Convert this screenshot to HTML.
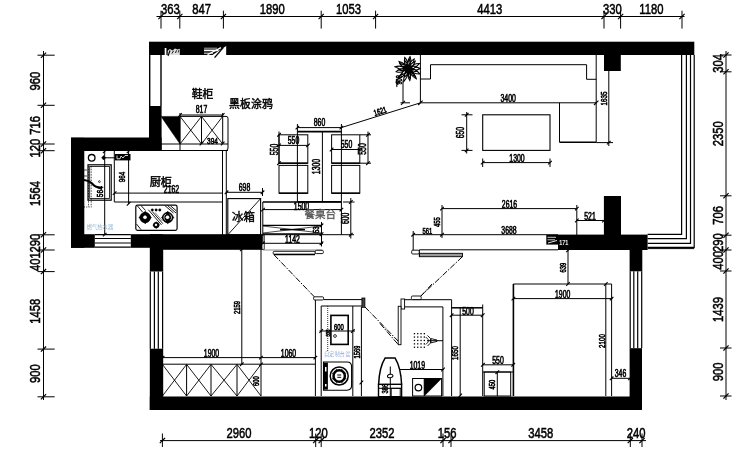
<!DOCTYPE html>
<html><head><meta charset="utf-8"><title>Floor plan</title>
<style>
html,body{margin:0;padding:0;background:#fff;}
body{width:740px;height:450px;overflow:hidden;font-family:"Liberation Sans",sans-serif;}
svg{display:block;will-change:transform;filter:blur(0.4px);}
svg text{font-family:"Liberation Sans",sans-serif;}
</style></head><body>
<svg width="740" height="450" viewBox="0 0 740 450" shape-rendering="geometricPrecision">
<rect width="740" height="450" fill="#fff"/>
<rect x="149" y="41.7" width="545.3" height="13.3" fill="#000" stroke="none" stroke-width="1" rx="0"/>
<rect x="149" y="106" width="12.6" height="45" fill="#000" stroke="none" stroke-width="1" rx="0"/>
<line x1="149.7" y1="55" x2="149.7" y2="106" stroke="#000" stroke-width="1.4" />
<line x1="161" y1="55" x2="161" y2="106" stroke="#000" stroke-width="1.4" />
<rect x="71" y="137.5" width="90.6" height="13.5" fill="#000" stroke="none" stroke-width="1" rx="0"/>
<rect x="71" y="137.8" width="13.3" height="110" fill="#000" stroke="none" stroke-width="1" rx="0"/>
<rect x="71" y="234.2" width="23.8" height="13.6" fill="#000" stroke="none" stroke-width="1" rx="0"/>
<rect x="130.8" y="234.2" width="32" height="13.6" fill="#000" stroke="none" stroke-width="1" rx="0"/>
<rect x="150" y="234.2" width="112.6" height="15.6" fill="#000" stroke="none" stroke-width="1" rx="0"/>
<rect x="149.8" y="247" width="13.4" height="24.5" fill="#000" stroke="none" stroke-width="1" rx="0"/>
<rect x="149.8" y="348.7" width="13.4" height="61.3" fill="#000" stroke="none" stroke-width="1" rx="0"/>
<rect x="149.8" y="396.5" width="492.2" height="13.5" fill="#000" stroke="none" stroke-width="1" rx="0"/>
<rect x="629.6" y="249" width="12.7" height="22.3" fill="#000" stroke="none" stroke-width="1" rx="0"/>
<rect x="629.6" y="348.2" width="12.4" height="61.8" fill="#000" stroke="none" stroke-width="1" rx="0"/>
<rect x="558" y="234.6" width="89.6" height="15.4" fill="#000" stroke="none" stroke-width="1" rx="0"/>
<rect x="603.9" y="196" width="17.1" height="39.5" fill="#000" stroke="none" stroke-width="1" rx="0"/>
<rect x="604" y="54" width="16.8" height="17" fill="#000" stroke="none" stroke-width="1" rx="0"/>
<path d="M161,116.4 L180,116.4 L180,144 Z" stroke="#000" stroke-width="0.5" fill="#000" />
<line x1="94.8" y1="234.7" x2="130.8" y2="234.7" stroke="#000" stroke-width="1.2" />
<line x1="94.8" y1="238.5" x2="130.8" y2="238.5" stroke="#000" stroke-width="1.2" />
<line x1="94.8" y1="243" x2="130.8" y2="243" stroke="#000" stroke-width="1.2" />
<line x1="94.8" y1="247.2" x2="130.8" y2="247.2" stroke="#000" stroke-width="1.2" />
<line x1="150.3" y1="271.5" x2="150.3" y2="348.7" stroke="#000" stroke-width="1.2" />
<line x1="154.4" y1="271.5" x2="154.4" y2="348.7" stroke="#000" stroke-width="1.2" />
<line x1="158.3" y1="271.5" x2="158.3" y2="348.7" stroke="#000" stroke-width="1.2" />
<line x1="162.6" y1="271.5" x2="162.6" y2="348.7" stroke="#000" stroke-width="1.2" />
<line x1="630.2" y1="271.3" x2="630.2" y2="348.2" stroke="#000" stroke-width="1.2" />
<line x1="633.8" y1="271.3" x2="633.8" y2="348.2" stroke="#000" stroke-width="1.2" />
<line x1="637.7" y1="271.3" x2="637.7" y2="348.2" stroke="#000" stroke-width="1.2" />
<line x1="641.7" y1="271.3" x2="641.7" y2="348.2" stroke="#000" stroke-width="1.2" />
<path d="M647.6,234.3 L681.6,234.3 L681.6,55" stroke="#000" stroke-width="1.2" fill="none" />
<path d="M647.6,238.7 L686.4,238.7 L686.4,55" stroke="#000" stroke-width="1.2" fill="none" />
<path d="M647.6,243.4 L690.5,243.4 L690.5,55" stroke="#000" stroke-width="1.2" fill="none" />
<path d="M647.6,247.3 L694.2,247.3 L694.2,55" stroke="#000" stroke-width="1.2" fill="none" />
<line x1="647.6" y1="248.6" x2="694.2" y2="248.6" stroke="#000" stroke-width="1" />
<line x1="156.5" y1="16.5" x2="684.5" y2="16.5" stroke="#000" stroke-width="1" />
<line x1="161" y1="10.7" x2="161" y2="28.6" stroke="#000" stroke-width="1" />
<line x1="158.4" y1="19.1" x2="163.6" y2="13.9" stroke="#000" stroke-width="1.2" />
<line x1="179.8" y1="10.7" x2="179.8" y2="28.6" stroke="#000" stroke-width="1" />
<line x1="177.20000000000002" y1="19.1" x2="182.4" y2="13.9" stroke="#000" stroke-width="1.2" />
<line x1="223.4" y1="10.7" x2="223.4" y2="28.6" stroke="#000" stroke-width="1" />
<line x1="220.8" y1="19.1" x2="226.0" y2="13.9" stroke="#000" stroke-width="1.2" />
<line x1="321.2" y1="10.7" x2="321.2" y2="28.6" stroke="#000" stroke-width="1" />
<line x1="318.59999999999997" y1="19.1" x2="323.8" y2="13.9" stroke="#000" stroke-width="1.2" />
<line x1="375.6" y1="10.7" x2="375.6" y2="28.6" stroke="#000" stroke-width="1" />
<line x1="373.0" y1="19.1" x2="378.20000000000005" y2="13.9" stroke="#000" stroke-width="1.2" />
<line x1="604" y1="10.7" x2="604" y2="28.6" stroke="#000" stroke-width="1" />
<line x1="601.4" y1="19.1" x2="606.6" y2="13.9" stroke="#000" stroke-width="1.2" />
<line x1="620.6" y1="10.7" x2="620.6" y2="28.6" stroke="#000" stroke-width="1" />
<line x1="618.0" y1="19.1" x2="623.2" y2="13.9" stroke="#000" stroke-width="1.2" />
<line x1="682" y1="10.7" x2="682" y2="28.6" stroke="#000" stroke-width="1" />
<line x1="679.4" y1="19.1" x2="684.6" y2="13.9" stroke="#000" stroke-width="1.2" />
<text transform="translate(170.4,13.6) scale(0.75,1)" font-size="15" text-anchor="middle" fill="#000" stroke="#000" stroke-width="0.55" font-weight="normal">363</text>
<text transform="translate(201.60000000000002,13.6) scale(0.75,1)" font-size="15" text-anchor="middle" fill="#000" stroke="#000" stroke-width="0.55" font-weight="normal">847</text>
<text transform="translate(272.3,13.6) scale(0.75,1)" font-size="15" text-anchor="middle" fill="#000" stroke="#000" stroke-width="0.55" font-weight="normal">1890</text>
<text transform="translate(348.4,13.6) scale(0.75,1)" font-size="15" text-anchor="middle" fill="#000" stroke="#000" stroke-width="0.55" font-weight="normal">1053</text>
<text transform="translate(489.8,13.6) scale(0.75,1)" font-size="15" text-anchor="middle" fill="#000" stroke="#000" stroke-width="0.55" font-weight="normal">4413</text>
<text transform="translate(612.3,13.6) scale(0.75,1)" font-size="15" text-anchor="middle" fill="#000" stroke="#000" stroke-width="0.55" font-weight="normal">330</text>
<text transform="translate(651.3,13.6) scale(0.75,1)" font-size="15" text-anchor="middle" fill="#000" stroke="#000" stroke-width="0.55" font-weight="normal">1180</text>
<line x1="160" y1="440.6" x2="646" y2="440.6" stroke="#000" stroke-width="1" />
<line x1="162.4" y1="433.5" x2="162.4" y2="447" stroke="#000" stroke-width="1" />
<line x1="159.8" y1="443.20000000000005" x2="165.0" y2="438.0" stroke="#000" stroke-width="1.2" />
<line x1="315.7" y1="433.5" x2="315.7" y2="447" stroke="#000" stroke-width="1" />
<line x1="313.09999999999997" y1="443.20000000000005" x2="318.3" y2="438.0" stroke="#000" stroke-width="1.2" />
<line x1="321.2" y1="433.5" x2="321.2" y2="447" stroke="#000" stroke-width="1" />
<line x1="318.59999999999997" y1="443.20000000000005" x2="323.8" y2="438.0" stroke="#000" stroke-width="1.2" />
<line x1="443" y1="433.5" x2="443" y2="447" stroke="#000" stroke-width="1" />
<line x1="440.4" y1="443.20000000000005" x2="445.6" y2="438.0" stroke="#000" stroke-width="1.2" />
<line x1="451" y1="433.5" x2="451" y2="447" stroke="#000" stroke-width="1" />
<line x1="448.4" y1="443.20000000000005" x2="453.6" y2="438.0" stroke="#000" stroke-width="1.2" />
<line x1="630.3" y1="433.5" x2="630.3" y2="447" stroke="#000" stroke-width="1" />
<line x1="627.6999999999999" y1="443.20000000000005" x2="632.9" y2="438.0" stroke="#000" stroke-width="1.2" />
<line x1="642" y1="433.5" x2="642" y2="447" stroke="#000" stroke-width="1" />
<line x1="639.4" y1="443.20000000000005" x2="644.6" y2="438.0" stroke="#000" stroke-width="1.2" />
<text transform="translate(239.05,438.4) scale(0.75,1)" font-size="15" text-anchor="middle" fill="#000" stroke="#000" stroke-width="0.55" font-weight="normal">2960</text>
<text transform="translate(318.45,438.4) scale(0.75,1)" font-size="15" text-anchor="middle" fill="#000" stroke="#000" stroke-width="0.55" font-weight="normal">120</text>
<text transform="translate(382.1,438.4) scale(0.75,1)" font-size="15" text-anchor="middle" fill="#000" stroke="#000" stroke-width="0.55" font-weight="normal">2352</text>
<text transform="translate(447.0,438.4) scale(0.75,1)" font-size="15" text-anchor="middle" fill="#000" stroke="#000" stroke-width="0.55" font-weight="normal">156</text>
<text transform="translate(540.65,438.4) scale(0.75,1)" font-size="15" text-anchor="middle" fill="#000" stroke="#000" stroke-width="0.55" font-weight="normal">3458</text>
<text transform="translate(636.15,438.4) scale(0.75,1)" font-size="15" text-anchor="middle" fill="#000" stroke="#000" stroke-width="0.55" font-weight="normal">240</text>
<line x1="43.5" y1="51" x2="43.5" y2="400" stroke="#000" stroke-width="1" />
<line x1="37.5" y1="55.2" x2="54.7" y2="55.2" stroke="#000" stroke-width="1" />
<line x1="40.9" y1="57.800000000000004" x2="46.1" y2="52.6" stroke="#000" stroke-width="1.2" />
<line x1="37.5" y1="105.3" x2="54.7" y2="105.3" stroke="#000" stroke-width="1" />
<line x1="40.9" y1="107.89999999999999" x2="46.1" y2="102.7" stroke="#000" stroke-width="1.2" />
<line x1="37.5" y1="144" x2="54.7" y2="144" stroke="#000" stroke-width="1" />
<line x1="40.9" y1="146.6" x2="46.1" y2="141.4" stroke="#000" stroke-width="1.2" />
<line x1="37.5" y1="150.7" x2="54.7" y2="150.7" stroke="#000" stroke-width="1" />
<line x1="40.9" y1="153.29999999999998" x2="46.1" y2="148.1" stroke="#000" stroke-width="1.2" />
<line x1="37.5" y1="234.8" x2="54.7" y2="234.8" stroke="#000" stroke-width="1" />
<line x1="40.9" y1="237.4" x2="46.1" y2="232.20000000000002" stroke="#000" stroke-width="1.2" />
<line x1="37.5" y1="250" x2="54.7" y2="250" stroke="#000" stroke-width="1" />
<line x1="40.9" y1="252.6" x2="46.1" y2="247.4" stroke="#000" stroke-width="1.2" />
<line x1="37.5" y1="271.6" x2="54.7" y2="271.6" stroke="#000" stroke-width="1" />
<line x1="40.9" y1="274.20000000000005" x2="46.1" y2="269.0" stroke="#000" stroke-width="1.2" />
<line x1="37.5" y1="349.1" x2="54.7" y2="349.1" stroke="#000" stroke-width="1" />
<line x1="40.9" y1="351.70000000000005" x2="46.1" y2="346.5" stroke="#000" stroke-width="1.2" />
<line x1="37.5" y1="396.8" x2="54.7" y2="396.8" stroke="#000" stroke-width="1" />
<line x1="40.9" y1="399.40000000000003" x2="46.1" y2="394.2" stroke="#000" stroke-width="1.2" />
<text transform="translate(40.2,81.05) rotate(-90) scale(0.75,1)" font-size="15" text-anchor="middle" fill="#000" stroke="#000" stroke-width="0.55" font-weight="normal">960</text>
<text transform="translate(40.2,125.45) rotate(-90) scale(0.75,1)" font-size="15" text-anchor="middle" fill="#000" stroke="#000" stroke-width="0.55" font-weight="normal">716</text>
<text transform="translate(40.2,148.15) rotate(-90) scale(0.75,1)" font-size="15" text-anchor="middle" fill="#000" stroke="#000" stroke-width="0.55" font-weight="normal">120</text>
<text transform="translate(40.2,193.55) rotate(-90) scale(0.75,1)" font-size="15" text-anchor="middle" fill="#000" stroke="#000" stroke-width="0.55" font-weight="normal">1564</text>
<text transform="translate(40.2,243.20000000000002) rotate(-90) scale(0.75,1)" font-size="15" text-anchor="middle" fill="#000" stroke="#000" stroke-width="0.55" font-weight="normal">290</text>
<text transform="translate(40.2,261.6) rotate(-90) scale(0.75,1)" font-size="15" text-anchor="middle" fill="#000" stroke="#000" stroke-width="0.55" font-weight="normal">401</text>
<text transform="translate(40.2,311.15000000000003) rotate(-90) scale(0.75,1)" font-size="15" text-anchor="middle" fill="#000" stroke="#000" stroke-width="0.55" font-weight="normal">1458</text>
<text transform="translate(40.2,373.75000000000006) rotate(-90) scale(0.75,1)" font-size="15" text-anchor="middle" fill="#000" stroke="#000" stroke-width="0.55" font-weight="normal">900</text>
<line x1="726" y1="51" x2="726" y2="400" stroke="#000" stroke-width="1" />
<line x1="720" y1="55" x2="731.5" y2="55" stroke="#000" stroke-width="1" />
<line x1="723.4" y1="57.6" x2="728.6" y2="52.4" stroke="#000" stroke-width="1.2" />
<line x1="720" y1="71.8" x2="731.5" y2="71.8" stroke="#000" stroke-width="1" />
<line x1="723.4" y1="74.39999999999999" x2="728.6" y2="69.2" stroke="#000" stroke-width="1.2" />
<line x1="720" y1="195.8" x2="731.5" y2="195.8" stroke="#000" stroke-width="1" />
<line x1="723.4" y1="198.4" x2="728.6" y2="193.20000000000002" stroke="#000" stroke-width="1.2" />
<line x1="720" y1="235.2" x2="731.5" y2="235.2" stroke="#000" stroke-width="1" />
<line x1="723.4" y1="237.79999999999998" x2="728.6" y2="232.6" stroke="#000" stroke-width="1.2" />
<line x1="720" y1="250" x2="731.5" y2="250" stroke="#000" stroke-width="1" />
<line x1="723.4" y1="252.6" x2="728.6" y2="247.4" stroke="#000" stroke-width="1.2" />
<line x1="720" y1="271" x2="731.5" y2="271" stroke="#000" stroke-width="1" />
<line x1="723.4" y1="273.6" x2="728.6" y2="268.4" stroke="#000" stroke-width="1.2" />
<line x1="720" y1="348" x2="731.5" y2="348" stroke="#000" stroke-width="1" />
<line x1="723.4" y1="350.6" x2="728.6" y2="345.4" stroke="#000" stroke-width="1.2" />
<line x1="720" y1="396" x2="731.5" y2="396" stroke="#000" stroke-width="1" />
<line x1="723.4" y1="398.6" x2="728.6" y2="393.4" stroke="#000" stroke-width="1.2" />
<text transform="translate(723.2,63.4) rotate(-90) scale(0.75,1)" font-size="15" text-anchor="middle" fill="#000" stroke="#000" stroke-width="0.55" font-weight="normal">304</text>
<text transform="translate(723.2,133.8) rotate(-90) scale(0.75,1)" font-size="15" text-anchor="middle" fill="#000" stroke="#000" stroke-width="0.55" font-weight="normal">2350</text>
<text transform="translate(723.2,215.5) rotate(-90) scale(0.75,1)" font-size="15" text-anchor="middle" fill="#000" stroke="#000" stroke-width="0.55" font-weight="normal">706</text>
<text transform="translate(723.2,242.6) rotate(-90) scale(0.75,1)" font-size="15" text-anchor="middle" fill="#000" stroke="#000" stroke-width="0.55" font-weight="normal">290</text>
<text transform="translate(723.2,260.5) rotate(-90) scale(0.75,1)" font-size="15" text-anchor="middle" fill="#000" stroke="#000" stroke-width="0.55" font-weight="normal">400</text>
<text transform="translate(723.2,309.5) rotate(-90) scale(0.75,1)" font-size="15" text-anchor="middle" fill="#000" stroke="#000" stroke-width="0.55" font-weight="normal">1439</text>
<text transform="translate(723.2,372.0) rotate(-90) scale(0.75,1)" font-size="15" text-anchor="middle" fill="#000" stroke="#000" stroke-width="0.55" font-weight="normal">900</text>
<rect x="164.7" y="48" width="1.7" height="7" fill="#fff" stroke="none" stroke-width="1" rx="0"/>
<path d="M167.6,55 L167.8,50.5 L170,49 L172.5,50.5 L175,48.6 L177.5,49.5 L179.8,48.8 L179.8,55 Z" stroke="none" stroke-width="0" fill="#ddd" />
<line x1="168" y1="56" x2="170" y2="50.5" stroke="#000" stroke-width="1.1" />
<line x1="172" y1="53.5" x2="173.5" y2="50.8" stroke="#000" stroke-width="0.9" />
<line x1="175.5" y1="53" x2="176.5" y2="50.3" stroke="#000" stroke-width="0.9" />
<line x1="178.2" y1="52.5" x2="178.8" y2="50.2" stroke="#000" stroke-width="0.8" />
<line x1="204" y1="48.2" x2="217" y2="48.2" stroke="#aaa" stroke-width="1" />
<line x1="204" y1="50.4" x2="218.5" y2="50.4" stroke="#fff" stroke-width="1.7" />
<line x1="204" y1="53.2" x2="213" y2="53.2" stroke="#ccc" stroke-width="1.2" />
<path d="M212.5,54.9 L226.2,46.1 L226.2,54.9 Z" stroke="none" stroke-width="0" fill="#fff" />
<line x1="207.5" y1="54.8" x2="221" y2="47.6" stroke="#fff" stroke-width="1.3" />
<line x1="214.6" y1="57.6" x2="223.2" y2="47.6" stroke="#000" stroke-width="1.4" />
<line x1="161" y1="144" x2="228" y2="144" stroke="#000" stroke-width="1" />
<line x1="161" y1="150.5" x2="228" y2="150.5" stroke="#000" stroke-width="1" />
<line x1="180" y1="116.4" x2="222.7" y2="116.4" stroke="#000" stroke-width="1" />
<line x1="180" y1="115" x2="222.7" y2="115" stroke="#000" stroke-width="1" />
<line x1="180" y1="116.4" x2="180" y2="150.5" stroke="#000" stroke-width="1" />
<line x1="201.5" y1="116.4" x2="201.5" y2="144" stroke="#000" stroke-width="1" />
<line x1="222.7" y1="113" x2="222.7" y2="144" stroke="#000" stroke-width="1" />
<line x1="180" y1="113" x2="180" y2="116" stroke="#000" stroke-width="1" />
<line x1="180" y1="116.4" x2="201.5" y2="144" stroke="#000" stroke-width="0.9" />
<line x1="180" y1="144" x2="201.5" y2="116.4" stroke="#000" stroke-width="0.9" />
<line x1="201.5" y1="116.4" x2="222.7" y2="144" stroke="#000" stroke-width="0.9" />
<line x1="201.5" y1="144" x2="222.7" y2="116.4" stroke="#000" stroke-width="0.9" />
<path d="M222.7,116.4 H226 Q228,116.4 228,118.4 V148 Q228,150.5 226,150.5" fill="none" stroke="#000"/>
<line x1="178.2" y1="116.8" x2="181.8" y2="113.2" stroke="#000" stroke-width="1.1" />
<line x1="220.89999999999998" y1="116.8" x2="224.5" y2="113.2" stroke="#000" stroke-width="1.1" />
<line x1="199.7" y1="145.3" x2="203.3" y2="141.7" stroke="#000" stroke-width="1.1" />
<line x1="220.89999999999998" y1="145.3" x2="224.5" y2="141.7" stroke="#000" stroke-width="1.1" />
<text transform="translate(201.5,113) scale(0.69,1)" font-size="10" text-anchor="middle" fill="#000" stroke="#000" stroke-width="0.6" font-weight="normal">817</text>
<text transform="translate(212.5,144.2) scale(0.69,1)" font-size="9.5" text-anchor="middle" fill="#000" stroke="#000" stroke-width="0.6" font-weight="normal">394</text>
<text x="191.7" y="98.3" font-size="10.8" fill="#000" stroke="#000" stroke-width="0.45" style="font-family:'Liberation Sans','Noto Sans CJK SC',sans-serif">鞋柜</text>
<text x="229" y="108.2" font-size="10.8" letter-spacing="0.2" fill="#000" stroke="#000" stroke-width="0.45" style="font-family:'Liberation Sans','Noto Sans CJK SC',sans-serif">黑板涂鸦</text>
<line x1="222.5" y1="150" x2="222.5" y2="235" stroke="#000" stroke-width="1" />
<line x1="226.3" y1="150" x2="226.3" y2="235" stroke="#000" stroke-width="1" />
<circle cx="91.7" cy="157.8" r="3.3" fill="none" stroke="#000" stroke-width="1.3"/>
<path d="M103.6,155.6 L105.6,157.8 L103.6,160 L101.6,157.8 Z" stroke="#000" stroke-width="0.5" fill="#000" />
<line x1="105" y1="157.8" x2="115" y2="157.8" stroke="#000" stroke-width="1" />
<rect x="115" y="154" width="15.5" height="6.4" fill="#000" stroke="none" stroke-width="1" rx="0"/>
<path d="M117,155.5 L117,158.8 L120,158.8 L121,156 L123,158 L125,155.5 L128,155.5" stroke="#fff" stroke-width="0.8" fill="none" />
<line x1="104.7" y1="151" x2="104.7" y2="235" stroke="#000" stroke-width="1" />
<line x1="102.9" y1="153.10000000000002" x2="106.5" y2="149.5" stroke="#000" stroke-width="1.1" />
<line x1="102.9" y1="236.4" x2="106.5" y2="232.79999999999998" stroke="#000" stroke-width="1.1" />
<rect x="88" y="164.8" width="23.2" height="35.4" fill="none" stroke="#000" stroke-width="1.2" rx="0"/>
<rect x="89.7" y="166.5" width="19.8" height="32" fill="none" stroke="#000" stroke-width="0.8" rx="0"/>
<line x1="88.5" y1="166" x2="88.5" y2="207" stroke="#000" stroke-width="0.7" stroke-dasharray="1.5,1.2"/>
<line x1="91.2" y1="166" x2="91.2" y2="207" stroke="#000" stroke-width="0.7" stroke-dasharray="1.5,1.2"/>
<line x1="84" y1="207" x2="91.5" y2="207" stroke="#000" stroke-width="0.8" stroke-dasharray="1,1.3"/>
<line x1="84" y1="170" x2="87" y2="170" stroke="#000" stroke-width="0.7" />
<line x1="84" y1="176" x2="87" y2="176" stroke="#000" stroke-width="0.7" />
<path d="M84,180 Q90,181 93,184.5 T102,187.6" fill="none" stroke="#000" stroke-width="2"/>
<circle cx="99.4" cy="181.6" r="0.9" fill="none" stroke="#000" stroke-width="0.7"/>
<text transform="translate(102.6,191.7) rotate(-90) scale(0.69,1)" font-size="9.5" text-anchor="middle" fill="#000" stroke="#000" stroke-width="0.6" font-weight="normal">564</text>
<line x1="114.3" y1="151" x2="114.3" y2="202" stroke="#000" stroke-width="1" />
<line x1="128.6" y1="151" x2="128.6" y2="204.2" stroke="#000" stroke-width="1" />
<line x1="114.3" y1="193.1" x2="222.3" y2="193.1" stroke="#000" stroke-width="1" />
<line x1="114.3" y1="202" x2="222.3" y2="202" stroke="#000" stroke-width="1" />
<line x1="126.8" y1="153.10000000000002" x2="130.4" y2="149.5" stroke="#000" stroke-width="1.1" />
<line x1="126.8" y1="205.60000000000002" x2="130.4" y2="202.0" stroke="#000" stroke-width="1.1" />
<line x1="112.8" y1="194.9" x2="116.39999999999999" y2="191.29999999999998" stroke="#000" stroke-width="1.1" />
<text transform="translate(125.4,177) rotate(-90) scale(0.69,1)" font-size="9" text-anchor="middle" fill="#000" stroke="#000" stroke-width="0.6" font-weight="normal">964</text>
<text transform="translate(171.5,193) scale(0.69,1)" font-size="10" text-anchor="middle" fill="#000" stroke="#000" stroke-width="0.6" font-weight="normal">2162</text>
<text x="149.8" y="185.7" font-size="11.2" letter-spacing="-0.2" fill="#000" stroke="#000" stroke-width="0.45" style="font-family:'Liberation Sans','Noto Sans CJK SC',sans-serif">厨柜</text>
<rect x="135.8" y="205.1" width="41.3" height="25.3" fill="none" stroke="#000" stroke-width="1.2" rx="1.8"/>
<circle cx="145.2" cy="217.5" r="5.319999999999999" fill="#000" stroke="#000" stroke-width="0.5"/>
<path d="M138.928,217.5 L145.2,211.228 L151.47199999999998,217.5 L145.2,223.772 Z" stroke="#000" stroke-width="0.5" fill="#000" />
<circle cx="145.0" cy="217.3" r="1.7" fill="#fff" stroke="#fff" stroke-width="0.2"/>
<circle cx="167.7" cy="217.5" r="5.319999999999999" fill="#000" stroke="#000" stroke-width="0.5"/>
<path d="M161.428,217.5 L167.7,211.228 L173.97199999999998,217.5 L167.7,223.772 Z" stroke="#000" stroke-width="0.5" fill="#000" />
<circle cx="167.5" cy="217.3" r="1.7" fill="#fff" stroke="#fff" stroke-width="0.2"/>
<circle cx="156.2" cy="225.1" r="2.8499999999999996" fill="#000" stroke="#000" stroke-width="0.5"/>
<path d="M152.83999999999997,225.1 L156.2,221.73999999999998 L159.56,225.1 L156.2,228.46 Z" stroke="#000" stroke-width="0.5" fill="#000" />
<circle cx="156.0" cy="224.9" r="1.1" fill="#fff" stroke="#fff" stroke-width="0.2"/>
<path d="M166.2,214 a3.6,3.6 0 0 0 -0.5,6.5" fill="none" stroke="#fff" stroke-width="0.7"/>
<path d="M169.5,214.2 a3.6,3.6 0 0 1 0.8,6" fill="none" stroke="#fff" stroke-width="0.7"/>
<circle cx="152.3" cy="209.9" r="1.25" fill="#000" stroke="#000" stroke-width="0.3"/>
<circle cx="156.1" cy="209.9" r="1.25" fill="#000" stroke="#000" stroke-width="0.3"/>
<circle cx="159.8" cy="209.9" r="1.25" fill="#000" stroke="#000" stroke-width="0.3"/>
<line x1="137.5" y1="206" x2="142.5" y2="212" stroke="#000" stroke-width="0.9" />
<line x1="141" y1="205.5" x2="145.5" y2="210.5" stroke="#000" stroke-width="0.9" />
<line x1="148.3" y1="209.7" x2="161.5" y2="224.9" stroke="#000" stroke-width="0.9" />
<line x1="152.3" y1="211.6" x2="162.9" y2="223.7" stroke="#000" stroke-width="0.9" />
<line x1="155" y1="212.5" x2="162.5" y2="221" stroke="#666" stroke-width="0.8" />
<line x1="164.8" y1="205.5" x2="173.5" y2="213" stroke="#000" stroke-width="0.9" />
<line x1="167.5" y1="205.5" x2="176" y2="213" stroke="#000" stroke-width="0.9" />
<line x1="170.5" y1="205.8" x2="176.5" y2="211" stroke="#000" stroke-width="0.9" />
<line x1="136.5" y1="224" x2="141" y2="229.6" stroke="#000" stroke-width="0.9" />
<text x="86.7" y="229" font-size="5.3" fill="#8fb0cc" style="font-family:'Liberation Sans','Noto Sans CJK SC',sans-serif">燃气热水器</text>
<rect x="227.8" y="198.6" width="32.8" height="36.2" fill="none" stroke="#000" stroke-width="1.1" rx="0"/>
<line x1="227.8" y1="234.8" x2="260.6" y2="198.6" stroke="#000" stroke-width="0.9" />
<line x1="226" y1="192.3" x2="262.5" y2="192.3" stroke="#000" stroke-width="1" />
<line x1="262.5" y1="188" x2="262.5" y2="196" stroke="#000" stroke-width="1" />
<line x1="224.7" y1="194.10000000000002" x2="228.3" y2="190.5" stroke="#000" stroke-width="1.1" />
<line x1="260.7" y1="194.10000000000002" x2="264.3" y2="190.5" stroke="#000" stroke-width="1.1" />
<text transform="translate(244.5,191.2) scale(0.69,1)" font-size="10" text-anchor="middle" fill="#000" stroke="#000" stroke-width="0.6" font-weight="normal">698</text>
<text x="232" y="221" font-size="11.4" letter-spacing="0.2" fill="#000" stroke="#000" stroke-width="0.4" style="font-family:'Liberation Sans','Noto Sans CJK SC',sans-serif">冰箱</text>
<rect x="262" y="235" width="2.2" height="14.3" fill="#fff" stroke="#000" stroke-width="0.8" rx="0"/>
<line x1="297.4" y1="127.6" x2="341.4" y2="127.6" stroke="#000" stroke-width="1" />
<line x1="297.4" y1="131.6" x2="341.4" y2="131.6" stroke="#000" stroke-width="1.6" />
<line x1="297.4" y1="124" x2="297.4" y2="201.8" stroke="#000" stroke-width="1" />
<line x1="341.4" y1="124" x2="341.4" y2="201.8" stroke="#000" stroke-width="1" />
<line x1="322.4" y1="131.6" x2="322.4" y2="201.8" stroke="#000" stroke-width="1" />
<line x1="297.4" y1="201.8" x2="341.4" y2="201.8" stroke="#000" stroke-width="1.6" />
<line x1="295.59999999999997" y1="129.4" x2="299.2" y2="125.8" stroke="#000" stroke-width="1.1" />
<line x1="339.59999999999997" y1="129.4" x2="343.2" y2="125.8" stroke="#000" stroke-width="1.1" />
<text transform="translate(319.5,126.2) scale(0.69,1)" font-size="10" text-anchor="middle" fill="#000" stroke="#000" stroke-width="0.6" font-weight="normal">860</text>
<text transform="translate(319.8,166.5) rotate(-90) scale(0.69,1)" font-size="10" text-anchor="middle" fill="#000" stroke="#000" stroke-width="0.6" font-weight="normal">1300</text>
<rect x="279" y="134.8" width="28.80000000000001" height="28.399999999999977" fill="none" stroke="#000" stroke-width="1" rx="0"/>
<line x1="279" y1="163.2" x2="307.8" y2="163.2" stroke="#000" stroke-width="1.5" />
<rect x="279" y="165.4" width="28.80000000000001" height="27.799999999999983" fill="none" stroke="#000" stroke-width="1" rx="0"/>
<line x1="279" y1="193.2" x2="307.8" y2="193.2" stroke="#000" stroke-width="1.5" />
<rect x="331.6" y="134.8" width="28.19999999999999" height="28.399999999999977" fill="none" stroke="#000" stroke-width="1" rx="0"/>
<line x1="331.6" y1="163.2" x2="359.8" y2="163.2" stroke="#000" stroke-width="1.5" />
<rect x="331.6" y="165.4" width="28.19999999999999" height="27.799999999999983" fill="none" stroke="#000" stroke-width="1" rx="0"/>
<line x1="331.6" y1="193.2" x2="359.8" y2="193.2" stroke="#000" stroke-width="1.5" />
<line x1="279" y1="131.5" x2="279" y2="163.5" stroke="#000" stroke-width="1" />
<line x1="279" y1="145.4" x2="308.5" y2="145.4" stroke="#000" stroke-width="1" />
<line x1="277.2" y1="136.60000000000002" x2="280.8" y2="133.0" stroke="#000" stroke-width="1.1" />
<line x1="277.2" y1="165.0" x2="280.8" y2="161.39999999999998" stroke="#000" stroke-width="1.1" />
<line x1="277.2" y1="147.20000000000002" x2="280.8" y2="143.6" stroke="#000" stroke-width="1.1" />
<line x1="306.2" y1="147.20000000000002" x2="309.8" y2="143.6" stroke="#000" stroke-width="1.1" />
<text transform="translate(293.5,144.2) scale(0.69,1)" font-size="10" text-anchor="middle" fill="#000" stroke="#000" stroke-width="0.6" font-weight="normal">550</text>
<text transform="translate(278,149.5) rotate(-90) scale(0.69,1)" font-size="10" text-anchor="middle" fill="#000" stroke="#000" stroke-width="0.6" font-weight="normal">550</text>
<line x1="368" y1="131.5" x2="368" y2="163.5" stroke="#000" stroke-width="1" />
<line x1="331" y1="149.5" x2="360" y2="149.5" stroke="#000" stroke-width="1" />
<line x1="366.2" y1="136.60000000000002" x2="369.8" y2="133.0" stroke="#000" stroke-width="1.1" />
<line x1="366.2" y1="165.0" x2="369.8" y2="161.39999999999998" stroke="#000" stroke-width="1.1" />
<line x1="329.8" y1="151.3" x2="333.40000000000003" y2="147.7" stroke="#000" stroke-width="1.1" />
<line x1="358.0" y1="151.3" x2="361.6" y2="147.7" stroke="#000" stroke-width="1.1" />
<text transform="translate(346.5,148.3) scale(0.69,1)" font-size="10" text-anchor="middle" fill="#000" stroke="#000" stroke-width="0.6" font-weight="normal">550</text>
<text transform="translate(365.8,149) rotate(-90) scale(0.69,1)" font-size="10" text-anchor="middle" fill="#000" stroke="#000" stroke-width="0.6" font-weight="normal">550</text>
<line x1="360" y1="134.8" x2="371" y2="134.8" stroke="#000" stroke-width="1" />
<line x1="360" y1="163.2" x2="371" y2="163.2" stroke="#000" stroke-width="1" />
<line x1="341.4" y1="127.6" x2="420.5" y2="102.8" stroke="#000" stroke-width="1" />
<text transform="translate(381,114) rotate(-17.5) scale(0.69,1)" font-size="8.5" text-anchor="middle" fill="#000" stroke="#000" stroke-width="0.6" font-weight="normal">1621</text>
<line x1="262.8" y1="202" x2="341.4" y2="202" stroke="#000" stroke-width="1.3" />
<line x1="262.8" y1="209.6" x2="341.4" y2="209.6" stroke="#000" stroke-width="1" />
<line x1="262.8" y1="202" x2="262.8" y2="243.5" stroke="#000" stroke-width="1" />
<line x1="341.4" y1="202" x2="341.4" y2="234.7" stroke="#000" stroke-width="1" />
<line x1="262.8" y1="234.7" x2="354" y2="234.7" stroke="#000" stroke-width="1" />
<line x1="261.2" y1="211.4" x2="264.8" y2="207.79999999999998" stroke="#000" stroke-width="1.1" />
<line x1="339.59999999999997" y1="211.4" x2="343.2" y2="207.79999999999998" stroke="#000" stroke-width="1.1" />
<text transform="translate(301.5,210) scale(0.69,1)" font-size="10" text-anchor="middle" fill="#000" stroke="#000" stroke-width="0.6" font-weight="normal">1500</text>
<text x="304.6" y="218.1" font-size="10.6" letter-spacing="-0.1" fill="#555" stroke="#555" stroke-width="0.3" style="font-family:'Liberation Sans','Noto Sans CJK SC',sans-serif">餐桌台</text>
<line x1="350.8" y1="198" x2="350.8" y2="238.5" stroke="#000" stroke-width="1" />
<line x1="343" y1="202" x2="354.5" y2="202" stroke="#000" stroke-width="1" />
<line x1="349.0" y1="203.8" x2="352.6" y2="200.2" stroke="#000" stroke-width="1.1" />
<line x1="349.0" y1="236.5" x2="352.6" y2="232.89999999999998" stroke="#000" stroke-width="1.1" />
<text transform="translate(348.6,218.3) rotate(-90) scale(0.69,1)" font-size="10" text-anchor="middle" fill="#000" stroke="#000" stroke-width="0.6" font-weight="normal">600</text>
<line x1="262.8" y1="225.3" x2="321.5" y2="225.3" stroke="#000" stroke-width="1.2" />
<line x1="262.8" y1="233.8" x2="321.5" y2="233.8" stroke="#000" stroke-width="1.2" />
<line x1="263" y1="226" x2="321" y2="233" stroke="#000" stroke-width="0.7" />
<line x1="263" y1="233" x2="321" y2="226" stroke="#000" stroke-width="0.7" />
<line x1="280" y1="229.6" x2="305" y2="229.6" stroke="#000" stroke-width="1.4" />
<line x1="321.5" y1="222" x2="321.5" y2="246.5" stroke="#000" stroke-width="1" />
<line x1="319.7" y1="227.10000000000002" x2="323.3" y2="223.5" stroke="#000" stroke-width="1.1" />
<line x1="319.7" y1="236.0" x2="323.3" y2="232.39999999999998" stroke="#000" stroke-width="1.1" />
<text transform="translate(318.6,229.8) rotate(-90) scale(0.69,1)" font-size="8.5" text-anchor="middle" fill="#000" stroke="#000" stroke-width="0.6" font-weight="normal">53</text>
<line x1="262.8" y1="243.3" x2="323" y2="243.3" stroke="#000" stroke-width="1" />
<line x1="261.0" y1="245.10000000000002" x2="264.6" y2="241.5" stroke="#000" stroke-width="1.1" />
<line x1="319.7" y1="245.10000000000002" x2="323.3" y2="241.5" stroke="#000" stroke-width="1.1" />
<text transform="translate(292.5,243.4) scale(0.69,1)" font-size="10" text-anchor="middle" fill="#000" stroke="#000" stroke-width="0.6" font-weight="normal">1142</text>
<line x1="263" y1="250" x2="322" y2="250" stroke="#777" stroke-width="0.8" />
<rect x="273.2" y="251.3" width="42" height="3.1" fill="#fff" stroke="#000" stroke-width="0.9" rx="1"/>
<line x1="274" y1="254.5" x2="315" y2="254.5" stroke="#000" stroke-width="1.3" />
<rect x="315.3" y="250.3" width="8" height="3.3" fill="#fff" stroke="#000" stroke-width="0.9" rx="1"/>
<line x1="274" y1="254.8" x2="314.5" y2="297" stroke="#000" stroke-width="1" stroke-dasharray="6,1.5,1.5,1.5"/>
<line x1="420.4" y1="55" x2="420.4" y2="102.8" stroke="#000" stroke-width="1" />
<line x1="420.4" y1="102.8" x2="596.2" y2="102.8" stroke="#000" stroke-width="1" />
<line x1="596.2" y1="55" x2="596.2" y2="142.3" stroke="#000" stroke-width="1" />
<path d="M420.4,79 L430.5,79 L430.5,64.7 L586.6,64.7 L586.6,79.3 L596.2,79.3" stroke="#000" stroke-width="1" fill="none" />
<line x1="559.5" y1="102.8" x2="559.5" y2="142.3" stroke="#000" stroke-width="1" />
<line x1="559.5" y1="142.3" x2="596.2" y2="142.3" stroke="#000" stroke-width="1.6" />
<line x1="418.2" y1="105.0" x2="422.59999999999997" y2="100.6" stroke="#000" stroke-width="1.1" />
<line x1="594.0" y1="105.0" x2="598.4000000000001" y2="100.6" stroke="#000" stroke-width="1.1" />
<text transform="translate(508.2,102) scale(0.69,1)" font-size="10" text-anchor="middle" fill="#000" stroke="#000" stroke-width="0.6" font-weight="normal">3400</text>
<line x1="608.8" y1="71" x2="608.8" y2="146" stroke="#000" stroke-width="1" />
<line x1="596.2" y1="142.6" x2="613" y2="142.6" stroke="#000" stroke-width="1" />
<line x1="607.0" y1="144.4" x2="610.5999999999999" y2="140.79999999999998" stroke="#000" stroke-width="1.1" />
<text transform="translate(607,98.5) rotate(-90) scale(0.69,1)" font-size="9" text-anchor="middle" fill="#000" stroke="#000" stroke-width="0.6" font-weight="normal">1635</text>
<rect x="482.7" y="114.8" width="67.3" height="35.6" fill="none" stroke="#000" stroke-width="1.1" rx="0"/>
<line x1="466.7" y1="112" x2="466.7" y2="153.5" stroke="#000" stroke-width="1" />
<line x1="461.5" y1="114.8" x2="472.5" y2="114.8" stroke="#000" stroke-width="1" />
<line x1="461.5" y1="150.4" x2="472.5" y2="150.4" stroke="#000" stroke-width="1" />
<line x1="464.9" y1="116.6" x2="468.5" y2="113.0" stroke="#000" stroke-width="1.1" />
<line x1="464.9" y1="152.20000000000002" x2="468.5" y2="148.6" stroke="#000" stroke-width="1.1" />
<text transform="translate(464.2,132.6) rotate(-90) scale(0.69,1)" font-size="10" text-anchor="middle" fill="#000" stroke="#000" stroke-width="0.6" font-weight="normal">650</text>
<line x1="482.7" y1="162.6" x2="550" y2="162.6" stroke="#000" stroke-width="1" />
<line x1="482.7" y1="158.5" x2="482.7" y2="167" stroke="#000" stroke-width="1" />
<line x1="550" y1="158.5" x2="550" y2="167" stroke="#000" stroke-width="1" />
<line x1="480.9" y1="164.4" x2="484.5" y2="160.79999999999998" stroke="#000" stroke-width="1.1" />
<line x1="548.2" y1="164.4" x2="551.8" y2="160.79999999999998" stroke="#000" stroke-width="1.1" />
<text transform="translate(517,161.5) scale(0.69,1)" font-size="10" text-anchor="middle" fill="#000" stroke="#000" stroke-width="0.6" font-weight="normal">1300</text>
<path d="M408.3,68.9 Q414.9,71.8 420.1,68.5 Q414.7,65.6 408.3,68.9Z" fill="#fff" stroke="#000" stroke-width="1.1"/>
<path d="M408.3,68.9 Q413.6,74.3 420.0,74.0 Q415.9,69.0 408.3,68.9Z" fill="#fff" stroke="#000" stroke-width="1.1"/>
<path d="M408.3,68.9 Q410.6,76.0 416.3,78.7 Q414.7,72.7 408.3,68.9Z" fill="#fff" stroke="#000" stroke-width="1.1"/>
<path d="M408.3,68.9 Q406.5,75.6 409.8,80.5 Q411.8,74.9 408.3,68.9Z" fill="#fff" stroke="#000" stroke-width="1.1"/>
<path d="M408.3,68.9 Q403.2,74.9 403.7,81.5 Q408.3,76.7 408.3,68.9Z" fill="#fff" stroke="#000" stroke-width="1.1"/>
<path d="M408.3,68.9 Q400.9,71.5 399.0,77.9 Q405.5,76.3 408.3,68.9Z" fill="#fff" stroke="#000" stroke-width="1.1"/>
<path d="M408.3,68.9 Q400.9,67.1 396.2,71.7 Q402.4,73.7 408.3,68.9Z" fill="#fff" stroke="#000" stroke-width="1.1"/>
<path d="M408.3,68.9 Q401.4,64.9 395.0,66.7 Q400.5,70.5 408.3,68.9Z" fill="#fff" stroke="#000" stroke-width="1.1"/>
<path d="M408.3,68.9 Q405.0,62.7 399.0,61.6 Q401.4,67.2 408.3,68.9Z" fill="#fff" stroke="#000" stroke-width="1.1"/>
<path d="M408.3,68.9 Q409.2,61.7 404.7,57.5 Q403.4,63.6 408.3,68.9Z" fill="#fff" stroke="#000" stroke-width="1.1"/>
<path d="M408.3,68.9 Q412.3,62.6 410.1,56.7 Q406.3,61.7 408.3,68.9Z" fill="#fff" stroke="#000" stroke-width="1.1"/>
<path d="M408.3,68.9 Q413.9,64.8 414.2,58.9 Q409.1,62.0 408.3,68.9Z" fill="#fff" stroke="#000" stroke-width="1.1"/>
<path d="M408.3,68.9 Q415.7,68.5 419.5,63.5 Q413.2,63.3 408.3,68.9Z" fill="#fff" stroke="#000" stroke-width="1.1"/>
<path d="M408.3,68.9 Q412.6,72.4 417.1,71.2 Q413.7,68.0 408.3,68.9Z" fill="#fff" stroke="#000" stroke-width="1.2"/>
<path d="M408.3,68.9 Q410.1,74.4 414.6,76.3 Q413.4,71.6 408.3,68.9Z" fill="#fff" stroke="#000" stroke-width="1.2"/>
<path d="M408.3,68.9 Q406.5,74.4 409.9,78.1 Q411.8,73.5 408.3,68.9Z" fill="#fff" stroke="#000" stroke-width="1.2"/>
<path d="M408.3,68.9 Q403.8,72.1 404.7,76.8 Q408.9,74.4 408.3,68.9Z" fill="#fff" stroke="#000" stroke-width="1.2"/>
<path d="M408.3,68.9 Q402.8,70.0 401.3,74.6 Q406.1,74.1 408.3,68.9Z" fill="#fff" stroke="#000" stroke-width="1.2"/>
<path d="M408.3,68.9 Q403.0,67.4 399.1,69.9 Q403.5,71.4 408.3,68.9Z" fill="#fff" stroke="#000" stroke-width="1.2"/>
<path d="M408.3,68.9 Q405.0,63.9 399.9,63.7 Q402.4,68.1 408.3,68.9Z" fill="#fff" stroke="#000" stroke-width="1.2"/>
<path d="M408.3,68.9 Q408.7,63.5 404.8,60.8 Q404.0,65.5 408.3,68.9Z" fill="#fff" stroke="#000" stroke-width="1.2"/>
<path d="M408.3,68.9 Q411.2,64.0 409.4,59.5 Q406.5,63.5 408.3,68.9Z" fill="#fff" stroke="#000" stroke-width="1.2"/>
<path d="M408.3,68.9 Q413.9,66.2 415.2,61.2 Q410.3,63.1 408.3,68.9Z" fill="#fff" stroke="#000" stroke-width="1.2"/>
<path d="M408.3,68.9 Q413.3,70.0 416.1,66.5 Q411.8,65.1 408.3,68.9Z" fill="#fff" stroke="#000" stroke-width="1.2"/>
<path d="M408.3,68.9 Q411.4,70.8 414.2,69.4 Q411.7,67.6 408.3,68.9Z" fill="#000" stroke="#000" stroke-width="1.3"/>
<path d="M408.3,68.9 Q409.7,72.6 412.9,73.5 Q412.0,70.3 408.3,68.9Z" fill="#000" stroke="#000" stroke-width="1.3"/>
<path d="M408.3,68.9 Q407.0,72.5 408.8,75.1 Q410.2,72.2 408.3,68.9Z" fill="#000" stroke="#000" stroke-width="1.3"/>
<path d="M408.3,68.9 Q405.3,70.4 405.2,73.3 Q407.9,72.3 408.3,68.9Z" fill="#000" stroke="#000" stroke-width="1.3"/>
<path d="M408.3,68.9 Q404.9,68.1 402.9,70.3 Q405.8,71.2 408.3,68.9Z" fill="#000" stroke="#000" stroke-width="1.3"/>
<path d="M408.3,68.9 Q406.0,66.1 402.9,66.4 Q404.6,69.0 408.3,68.9Z" fill="#000" stroke="#000" stroke-width="1.3"/>
<path d="M408.3,68.9 Q408.6,65.7 406.2,64.3 Q405.7,67.1 408.3,68.9Z" fill="#000" stroke="#000" stroke-width="1.3"/>
<path d="M408.3,68.9 Q410.7,66.3 409.8,63.4 Q407.6,65.5 408.3,68.9Z" fill="#000" stroke="#000" stroke-width="1.3"/>
<path d="M408.3,68.9 Q411.6,68.6 412.6,65.9 Q409.7,65.9 408.3,68.9Z" fill="#000" stroke="#000" stroke-width="1.3"/>
<circle cx="408.3" cy="68.9" r="2.8" fill="#000" stroke="#000" stroke-width="0.5"/>
<path d="M400,78 q-3,1 -4,4 q2,1 4,-1 M398,83 q-2,2 -1,4" fill="none" stroke="#000" stroke-width="1.1"/>
<line x1="403" y1="80.5" x2="403" y2="102.8" stroke="#000" stroke-width="1" />
<line x1="400.5" y1="102.8" x2="410" y2="102.8" stroke="#000" stroke-width="1" />
<line x1="401" y1="104.8" x2="405" y2="100.8" stroke="#000" stroke-width="1.1" />
<text transform="translate(401.6,79.8) rotate(-90) scale(0.69,1)" font-size="8.3" text-anchor="middle" fill="#000" stroke="#000" stroke-width="0.6" font-weight="normal">908</text>
<line x1="442" y1="208.6" x2="576.8" y2="208.6" stroke="#000" stroke-width="1" />
<line x1="413.2" y1="234.7" x2="558" y2="234.7" stroke="#000" stroke-width="1" />
<line x1="442" y1="205" x2="442" y2="238" stroke="#000" stroke-width="1" />
<line x1="576.8" y1="205" x2="576.8" y2="235" stroke="#000" stroke-width="1" />
<line x1="413.2" y1="231" x2="413.2" y2="252.5" stroke="#000" stroke-width="1" />
<line x1="440.2" y1="210.4" x2="443.8" y2="206.79999999999998" stroke="#000" stroke-width="1.1" />
<line x1="440.2" y1="236.5" x2="443.8" y2="232.89999999999998" stroke="#000" stroke-width="1.1" />
<line x1="575.0" y1="210.4" x2="578.5999999999999" y2="206.79999999999998" stroke="#000" stroke-width="1.1" />
<line x1="411.4" y1="236.5" x2="415.0" y2="232.89999999999998" stroke="#000" stroke-width="1.1" />
<text transform="translate(509.5,207.5) scale(0.69,1)" font-size="10" text-anchor="middle" fill="#000" stroke="#000" stroke-width="0.6" font-weight="normal">2616</text>
<text transform="translate(509,233.8) scale(0.69,1)" font-size="10" text-anchor="middle" fill="#000" stroke="#000" stroke-width="0.6" font-weight="normal">3688</text>
<text transform="translate(427.5,233.5) scale(0.69,1)" font-size="8.5" text-anchor="middle" fill="#000" stroke="#000" stroke-width="0.6" font-weight="normal">561</text>
<text transform="translate(439.8,222) rotate(-90) scale(0.69,1)" font-size="8.5" text-anchor="middle" fill="#000" stroke="#000" stroke-width="0.6" font-weight="normal">455</text>
<line x1="576.8" y1="220.5" x2="604" y2="220.5" stroke="#000" stroke-width="1" />
<line x1="575.0" y1="222.3" x2="578.5999999999999" y2="218.7" stroke="#000" stroke-width="1.1" />
<line x1="602.2" y1="222.3" x2="605.8" y2="218.7" stroke="#000" stroke-width="1.1" />
<text transform="translate(590,219.5) scale(0.69,1)" font-size="10" text-anchor="middle" fill="#000" stroke="#000" stroke-width="0.6" font-weight="normal">521</text>
<line x1="419.4" y1="249.8" x2="558" y2="249.8" stroke="#000" stroke-width="1" />
<rect x="419.4" y="253.3" width="43.1" height="3.4" fill="#999" stroke="#000" stroke-width="0.9" rx="0"/>
<line x1="419.4" y1="249.8" x2="419.4" y2="256.7" stroke="#000" stroke-width="1" />
<rect x="411.7" y="250.2" width="7.5" height="3.8" fill="#fff" stroke="#000" stroke-width="0.9" rx="1"/>
<line x1="462.3" y1="256.8" x2="419.5" y2="297.3" stroke="#000" stroke-width="1" stroke-dasharray="6,1.5,1.5,1.5"/>
<rect x="546.3" y="235" width="11.8" height="9.6" fill="#000" stroke="none" stroke-width="1" rx="0"/>
<line x1="547.5" y1="237.3" x2="556" y2="237.3" stroke="#fff" stroke-width="0.8" />
<line x1="547.5" y1="239.8" x2="555" y2="239.8" stroke="#fff" stroke-width="0.8" />
<line x1="548" y1="243" x2="557" y2="240.5" stroke="#fff" stroke-width="0.9" />
<text transform="translate(563.8,245) scale(0.7,1)" font-size="8" text-anchor="middle" fill="#fff" stroke="#fff" stroke-width="0.2" font-weight="normal">171</text>
<line x1="568" y1="250" x2="568" y2="284" stroke="#000" stroke-width="1" />
<line x1="566.2" y1="252.20000000000002" x2="569.8" y2="248.6" stroke="#000" stroke-width="1.1" />
<line x1="566.2" y1="285.8" x2="569.8" y2="282.2" stroke="#000" stroke-width="1.1" />
<text transform="translate(565.8,267.5) rotate(-90) scale(0.69,1)" font-size="8.5" text-anchor="middle" fill="#000" stroke="#000" stroke-width="0.6" font-weight="normal">639</text>
<line x1="513.4" y1="284" x2="611.6" y2="284" stroke="#000" stroke-width="1" />
<line x1="513.4" y1="284" x2="513.4" y2="396" stroke="#000" stroke-width="1.6" />
<line x1="605.8" y1="284" x2="605.8" y2="396" stroke="#000" stroke-width="1" />
<line x1="611.6" y1="284" x2="611.6" y2="396" stroke="#000" stroke-width="1" />
<line x1="513.4" y1="298.6" x2="612.5" y2="298.6" stroke="#000" stroke-width="1" />
<line x1="511.59999999999997" y1="300.40000000000003" x2="515.1999999999999" y2="296.8" stroke="#000" stroke-width="1.1" />
<line x1="609.8000000000001" y1="300.40000000000003" x2="613.4" y2="296.8" stroke="#000" stroke-width="1.1" />
<line x1="604.0" y1="285.8" x2="607.5999999999999" y2="282.2" stroke="#000" stroke-width="1.1" />
<text transform="translate(562.7,297.8) scale(0.69,1)" font-size="10" text-anchor="middle" fill="#000" stroke="#000" stroke-width="0.6" font-weight="normal">1900</text>
<text transform="translate(604.6,341) rotate(-90) scale(0.69,1)" font-size="9" text-anchor="middle" fill="#000" stroke="#000" stroke-width="0.6" font-weight="normal">2100</text>
<line x1="611.6" y1="378.3" x2="630" y2="378.3" stroke="#000" stroke-width="1" />
<line x1="609.8000000000001" y1="380.1" x2="613.4" y2="376.5" stroke="#000" stroke-width="1.1" />
<line x1="628.2" y1="380.1" x2="631.8" y2="376.5" stroke="#000" stroke-width="1.1" />
<text transform="translate(620.5,377.3) scale(0.69,1)" font-size="10" text-anchor="middle" fill="#000" stroke="#000" stroke-width="0.6" font-weight="normal">346</text>
<line x1="482.7" y1="364.8" x2="513.4" y2="364.8" stroke="#000" stroke-width="1" />
<line x1="482.7" y1="372" x2="513.4" y2="372" stroke="#000" stroke-width="1" />
<rect x="484.2" y="372" width="26.5" height="24" fill="none" stroke="#000" stroke-width="1" rx="0"/>
<line x1="497.3" y1="372" x2="497.3" y2="396" stroke="#000" stroke-width="1" />
<line x1="481.09999999999997" y1="366.6" x2="484.7" y2="363.0" stroke="#000" stroke-width="1.1" />
<line x1="511.40000000000003" y1="366.6" x2="515.0" y2="363.0" stroke="#000" stroke-width="1.1" />
<line x1="495.5" y1="374.0" x2="499.1" y2="370.4" stroke="#000" stroke-width="1.1" />
<text transform="translate(498,363.7) scale(0.69,1)" font-size="10" text-anchor="middle" fill="#000" stroke="#000" stroke-width="0.6" font-weight="normal">550</text>
<text transform="translate(495.4,384.5) rotate(-90) scale(0.69,1)" font-size="8.5" text-anchor="middle" fill="#000" stroke="#000" stroke-width="0.6" font-weight="normal">450</text>
<line x1="451.4" y1="307.8" x2="482.7" y2="307.8" stroke="#000" stroke-width="1.5" />
<line x1="451.4" y1="315.2" x2="482.7" y2="315.2" stroke="#000" stroke-width="1" />
<line x1="482.7" y1="304.5" x2="482.7" y2="396" stroke="#000" stroke-width="1" />
<line x1="460.2" y1="307.8" x2="460.2" y2="396" stroke="#000" stroke-width="1" />
<line x1="449.8" y1="317.0" x2="453.40000000000003" y2="313.4" stroke="#000" stroke-width="1.1" />
<line x1="480.9" y1="317.0" x2="484.5" y2="313.4" stroke="#000" stroke-width="1.1" />
<line x1="458.4" y1="397.3" x2="462.0" y2="393.7" stroke="#000" stroke-width="1.1" />
<text transform="translate(468,314.5) scale(0.69,1)" font-size="10" text-anchor="middle" fill="#000" stroke="#000" stroke-width="0.6" font-weight="normal">500</text>
<text transform="translate(458.3,353) rotate(-90) scale(0.69,1)" font-size="9" text-anchor="middle" fill="#000" stroke="#000" stroke-width="0.6" font-weight="normal">1650</text>
<line x1="241.8" y1="249" x2="241.8" y2="364.6" stroke="#000" stroke-width="1" />
<line x1="261" y1="249" x2="261" y2="396" stroke="#000" stroke-width="1" />
<line x1="162.4" y1="357.6" x2="315.4" y2="357.6" stroke="#000" stroke-width="1" />
<line x1="162.4" y1="364.2" x2="315.4" y2="364.2" stroke="#000" stroke-width="1" />
<line x1="186.6" y1="364.4" x2="186.6" y2="396" stroke="#000" stroke-width="1" />
<line x1="211" y1="364.4" x2="211" y2="396" stroke="#000" stroke-width="1" />
<line x1="237" y1="364.4" x2="237" y2="396" stroke="#000" stroke-width="1" />
<line x1="162.4" y1="364.4" x2="186.6" y2="396" stroke="#000" stroke-width="0.9" />
<line x1="162.4" y1="396" x2="186.6" y2="364.4" stroke="#000" stroke-width="0.9" />
<line x1="186.6" y1="364.4" x2="211" y2="396" stroke="#000" stroke-width="0.9" />
<line x1="186.6" y1="396" x2="211" y2="364.4" stroke="#000" stroke-width="0.9" />
<line x1="211" y1="364.4" x2="237" y2="396" stroke="#000" stroke-width="0.9" />
<line x1="211" y1="396" x2="237" y2="364.4" stroke="#000" stroke-width="0.9" />
<line x1="237" y1="364.4" x2="261" y2="396" stroke="#000" stroke-width="0.9" />
<line x1="237" y1="396" x2="261" y2="364.4" stroke="#000" stroke-width="0.9" />
<line x1="160.79999999999998" y1="359.40000000000003" x2="164.4" y2="355.8" stroke="#000" stroke-width="1.1" />
<line x1="259.2" y1="359.40000000000003" x2="262.8" y2="355.8" stroke="#000" stroke-width="1.1" />
<line x1="313.59999999999997" y1="359.40000000000003" x2="317.2" y2="355.8" stroke="#000" stroke-width="1.1" />
<line x1="240.0" y1="366.0" x2="243.60000000000002" y2="362.4" stroke="#000" stroke-width="1.1" />
<line x1="240.0" y1="251.20000000000002" x2="243.60000000000002" y2="247.6" stroke="#000" stroke-width="1.1" />
<line x1="259.2" y1="366.2" x2="262.8" y2="362.59999999999997" stroke="#000" stroke-width="1.1" />
<text transform="translate(211.5,356.6) scale(0.69,1)" font-size="10" text-anchor="middle" fill="#000" stroke="#000" stroke-width="0.6" font-weight="normal">1900</text>
<text transform="translate(288.5,356.8) scale(0.69,1)" font-size="10" text-anchor="middle" fill="#000" stroke="#000" stroke-width="0.6" font-weight="normal">1060</text>
<text transform="translate(239.8,307.5) rotate(-90) scale(0.69,1)" font-size="8.5" text-anchor="middle" fill="#000" stroke="#000" stroke-width="0.6" font-weight="normal">2159</text>
<text transform="translate(259,381) rotate(-90) scale(0.69,1)" font-size="8.5" text-anchor="middle" fill="#000" stroke="#000" stroke-width="0.6" font-weight="normal">600</text>
<rect x="313.6" y="296.8" width="10" height="3.2" fill="#fff" stroke="#000" stroke-width="0.9" rx="1.2"/>
<line x1="323.6" y1="299.6" x2="362" y2="299.6" stroke="#000" stroke-width="1" />
<line x1="315.4" y1="300" x2="315.4" y2="396" stroke="#000" stroke-width="1" />
<line x1="321.2" y1="306" x2="362" y2="306" stroke="#000" stroke-width="1" />
<line x1="321.2" y1="306" x2="321.2" y2="396" stroke="#000" stroke-width="1" />
<rect x="361.9" y="298" width="3" height="9.3" fill="#444" stroke="#000" stroke-width="0.8" rx="0"/>
<line x1="365" y1="307" x2="400.5" y2="343.5" stroke="#000" stroke-width="1" stroke-dasharray="6,1.5,1.5,1.5"/>
<rect x="330.9" y="315.4" width="17.3" height="29" fill="none" stroke="#000" stroke-width="1.6" rx="0"/>
<line x1="327.7" y1="306" x2="327.7" y2="352" stroke="#000" stroke-width="0.8" stroke-dasharray="1,1"/>
<line x1="352.8" y1="306" x2="352.8" y2="396" stroke="#000" stroke-width="1" />
<line x1="361.4" y1="307" x2="361.4" y2="396" stroke="#000" stroke-width="1" />
<line x1="319.5" y1="331" x2="355" y2="331" stroke="#000" stroke-width="1" />
<line x1="319.4" y1="332.8" x2="323.0" y2="329.2" stroke="#000" stroke-width="1.1" />
<line x1="351.0" y1="332.8" x2="354.6" y2="329.2" stroke="#000" stroke-width="1.1" />
<text transform="translate(338.8,329.5) scale(0.69,1)" font-size="8.5" text-anchor="middle" fill="#000" stroke="#000" stroke-width="0.6" font-weight="normal">600</text>
<text transform="translate(329.8,333) rotate(-90) scale(0.69,1)" font-size="6" text-anchor="middle" fill="#000" stroke="#000" stroke-width="0.6" font-weight="normal">338</text>
<circle cx="335" cy="336" r="1.4" fill="none" stroke="#000" stroke-width="0.8"/>
<text transform="translate(359.6,352) rotate(-90) scale(0.69,1)" font-size="8.5" text-anchor="middle" fill="#000" stroke="#000" stroke-width="0.6" font-weight="normal">1569</text>
<line x1="359.59999999999997" y1="384.3" x2="363.2" y2="380.7" stroke="#000" stroke-width="1.1" />
<text x="324" y="356.1" font-size="5.2" letter-spacing="0.1" fill="#8fa8dd" style="font-family:'Liberation Sans','Noto Sans CJK SC',sans-serif">自定制台盆</text>
<path d="M323.5,362 H347 Q351.6,362 351.6,366.6 V385.6 Q351.6,390.2 347,390.2 H323.5 Z" fill="#fff" stroke="#000" stroke-width="1.1"/>
<rect x="323.5" y="362.6" width="4.4" height="27" fill="#000" stroke="none" stroke-width="1" rx="0"/>
<rect x="325" y="367" width="1.5" height="4.5" fill="#fff" stroke="none" stroke-width="1" rx="0"/>
<rect x="325" y="384" width="1.5" height="2.5" fill="#fff" stroke="none" stroke-width="1" rx="0"/>
<circle cx="339.2" cy="376" r="9" fill="none" stroke="#000" stroke-width="1.5"/>
<circle cx="339.2" cy="376" r="5.7" fill="none" stroke="#000" stroke-width="2.5"/>
<line x1="337.3" y1="375" x2="341.2" y2="375" stroke="#000" stroke-width="1" />
<line x1="337.3" y1="377.3" x2="341.2" y2="377.3" stroke="#000" stroke-width="1" />
<circle cx="345.87572375288084" cy="378.6971674725946" r="0.45" fill="#000" stroke="#000" stroke-width="0.3"/>
<circle cx="342.01326412512276" cy="382.62763494485756" r="0.45" fill="#000" stroke="#000" stroke-width="0.3"/>
<circle cx="336.5028325274054" cy="382.67572375288086" r="0.45" fill="#000" stroke="#000" stroke-width="0.3"/>
<circle cx="332.5723650551424" cy="378.81326412512277" r="0.45" fill="#000" stroke="#000" stroke-width="0.3"/>
<circle cx="332.52427624711913" cy="373.3028325274054" r="0.45" fill="#000" stroke="#000" stroke-width="0.3"/>
<circle cx="336.3867358748772" cy="369.37236505514244" r="0.45" fill="#000" stroke="#000" stroke-width="0.3"/>
<circle cx="341.89716747259456" cy="369.32427624711914" r="0.45" fill="#000" stroke="#000" stroke-width="0.3"/>
<circle cx="345.82763494485755" cy="373.18673587487723" r="0.45" fill="#000" stroke="#000" stroke-width="0.3"/>
<line x1="401" y1="299.7" x2="451.6" y2="299.7" stroke="#000" stroke-width="1" />
<line x1="451.6" y1="299.7" x2="451.6" y2="396" stroke="#000" stroke-width="1" />
<line x1="404.4" y1="306.9" x2="442.9" y2="306.9" stroke="#000" stroke-width="1" />
<line x1="442.9" y1="306.9" x2="442.9" y2="396" stroke="#000" stroke-width="1" />
<rect x="401" y="299" width="3.6" height="10" fill="#fff" stroke="#000" stroke-width="0.9" rx="0"/>
<rect x="398.2" y="306.3" width="2.8" height="38.4" fill="#fff" stroke="#000" stroke-width="0.9" rx="0"/>
<line x1="380" y1="323.5" x2="398.3" y2="344.6" stroke="#000" stroke-width="1" stroke-dasharray="6,1.5,1.5,1.5"/>
<rect x="411.4" y="296" width="9.8" height="3.6" fill="#fff" stroke="#000" stroke-width="0.9" rx="1.2"/>
<line x1="421" y1="296" x2="432" y2="284" stroke="#000" stroke-width="1" stroke-dasharray="6,1.5,1.5,1.5"/>
<rect x="413.8" y="333.0" width="1.3" height="1.3" fill="#000" stroke="none" stroke-width="1" rx="0"/>
<rect x="413.8" y="336.4" width="1.3" height="1.3" fill="#000" stroke="none" stroke-width="1" rx="0"/>
<rect x="413.8" y="339.8" width="1.3" height="1.3" fill="#000" stroke="none" stroke-width="1" rx="0"/>
<rect x="413.8" y="343.2" width="1.3" height="1.3" fill="#000" stroke="none" stroke-width="1" rx="0"/>
<rect x="413.8" y="346.6" width="1.3" height="1.3" fill="#000" stroke="none" stroke-width="1" rx="0"/>
<rect x="417.1" y="333.0" width="1.3" height="1.3" fill="#000" stroke="none" stroke-width="1" rx="0"/>
<rect x="417.1" y="336.4" width="1.3" height="1.3" fill="#000" stroke="none" stroke-width="1" rx="0"/>
<rect x="417.1" y="339.8" width="1.3" height="1.3" fill="#000" stroke="none" stroke-width="1" rx="0"/>
<rect x="417.1" y="343.2" width="1.3" height="1.3" fill="#000" stroke="none" stroke-width="1" rx="0"/>
<rect x="417.1" y="346.6" width="1.3" height="1.3" fill="#000" stroke="none" stroke-width="1" rx="0"/>
<rect x="420.40000000000003" y="333.0" width="1.3" height="1.3" fill="#000" stroke="none" stroke-width="1" rx="0"/>
<rect x="420.40000000000003" y="336.4" width="1.3" height="1.3" fill="#000" stroke="none" stroke-width="1" rx="0"/>
<rect x="420.40000000000003" y="339.8" width="1.3" height="1.3" fill="#000" stroke="none" stroke-width="1" rx="0"/>
<rect x="420.40000000000003" y="343.2" width="1.3" height="1.3" fill="#000" stroke="none" stroke-width="1" rx="0"/>
<rect x="420.40000000000003" y="346.6" width="1.3" height="1.3" fill="#000" stroke="none" stroke-width="1" rx="0"/>
<rect x="423.7" y="333.0" width="1.3" height="1.3" fill="#000" stroke="none" stroke-width="1" rx="0"/>
<rect x="423.7" y="336.4" width="1.3" height="1.3" fill="#000" stroke="none" stroke-width="1" rx="0"/>
<rect x="423.7" y="339.8" width="1.3" height="1.3" fill="#000" stroke="none" stroke-width="1" rx="0"/>
<rect x="423.7" y="343.2" width="1.3" height="1.3" fill="#000" stroke="none" stroke-width="1" rx="0"/>
<rect x="423.7" y="346.6" width="1.3" height="1.3" fill="#000" stroke="none" stroke-width="1" rx="0"/>
<line x1="427" y1="340.7" x2="443" y2="340.7" stroke="#000" stroke-width="1" />
<path d="M431,338.6 L437,340 L437,341.4 L431,342.8 Z" stroke="#000" stroke-width="0.9" fill="none" />
<path d="M427.5,335.5 L430.5,338.5 L430.5,343 L427.5,346" stroke="#000" stroke-width="0.9" fill="none" />
<path d="M425.8,337 L428.2,339.5 L428.2,342 L425.8,344.5" stroke="#000" stroke-width="0.8" fill="none" />
<line x1="390.3" y1="369.5" x2="443.5" y2="369.5" stroke="#000" stroke-width="1" />
<line x1="441.2" y1="371.3" x2="444.8" y2="367.7" stroke="#000" stroke-width="1.1" />
<line x1="388.7" y1="371.3" x2="392.3" y2="367.7" stroke="#000" stroke-width="1.1" />
<text transform="translate(417.3,368.5) scale(0.69,1)" font-size="10" text-anchor="middle" fill="#000" stroke="#000" stroke-width="0.6" font-weight="normal">1019</text>
<path d="M378.6,384.5 C379,374 381.3,364 385.2,357.9 H395 C398.7,364 401.2,374 401.6,384.5" fill="#fff" stroke="#000" stroke-width="1.5"/>
<rect x="378.5" y="384.3" width="23.1" height="12.4" fill="#fff" stroke="#000" stroke-width="1.4" rx="0"/>
<line x1="378.5" y1="388.3" x2="401.6" y2="388.3" stroke="#000" stroke-width="1" />
<rect x="391.2" y="388.3" width="9" height="8.2" fill="none" stroke="#000" stroke-width="0.9" rx="0"/>
<line x1="390.3" y1="366.5" x2="390.3" y2="396" stroke="#000" stroke-width="1" />
<ellipse cx="390.2" cy="376" rx="2.8" ry="1.7" fill="#fff" stroke="#000" stroke-width="1" transform="rotate(-15 390.2 376)"/>
<text transform="translate(387.6,388.5) rotate(-90) scale(0.69,1)" font-size="8.5" text-anchor="middle" fill="#000" stroke="#000" stroke-width="0.6" font-weight="normal">386</text>
<rect x="412.6" y="378.5" width="29" height="17.5" fill="#fff" stroke="#000" stroke-width="1" rx="0"/>
<path d="M424.3,378.5 L441.6,378.5 L424.3,396 Z" stroke="#000" stroke-width="0.5" fill="#000" />
<line x1="424.3" y1="378.5" x2="424.3" y2="396" stroke="#000" stroke-width="1" />
<circle cx="418.4" cy="387.6" r="3.3" fill="none" stroke="#000" stroke-width="1.2"/>
</svg>
</body></html>
